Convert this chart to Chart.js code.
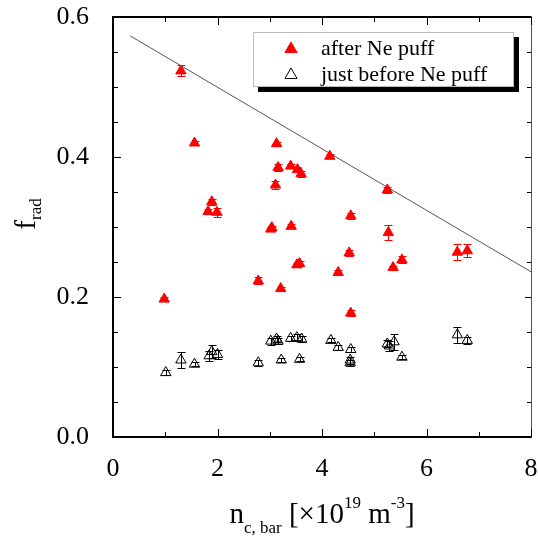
<!DOCTYPE html>
<html><head><meta charset="utf-8">
<script src="https://cdn.jsdelivr.net/npm/chart.js@4/dist/chart.umd.min.js"></script>
<style>html,body{margin:0;padding:0;background:#fff;overflow:hidden;}canvas{display:block;}</style>
</head><body>
<canvas id="c" width="538" height="543"></canvas>
<script>
// ---- data ----
const afterX   = [0.98, 1.30, 1.56, 1.89, 1.82, 1.99, 3.13, 3.16, 3.11, 3.40, 3.53, 3.60, 3.02, 3.04, 3.41, 3.52, 3.57, 2.78, 3.21, 4.15, 5.25, 4.55, 5.27, 4.52, 4.31, 5.36, 5.53, 4.55, 6.59, 6.78];
const afterY   = [0.197, 0.523, 0.420, 0.336, 0.322, 0.321, 0.419, 0.385, 0.360, 0.387, 0.382, 0.376, 0.297, 0.299, 0.301, 0.246, 0.248, 0.223, 0.212, 0.401, 0.353, 0.316, 0.292, 0.263, 0.235, 0.242, 0.253, 0.177, 0.264, 0.266];
const afterErr = [0.003, 0.008, 0.003, 0.004, 0.004, 0.006, 0.003, 0.005, 0.005, 0.003, 0.003, 0.004, 0.003, 0.003, 0.003, 0.003, 0.003, 0.005, 0.003, 0.003, 0.004, 0.004, 0.011, 0.004, 0.003, 0.003, 0.005, 0.004, 0.011, 0.009];
const beforeX   = [1.01, 1.30, 1.56, 1.84, 1.89, 2.00, 2.78, 3.02, 3.13, 3.16, 3.22, 3.40, 3.52, 3.61, 3.57, 4.17, 4.31, 4.55, 4.54, 4.54, 5.25, 5.29, 5.38, 5.53, 6.59, 6.78];
const beforeY   = [0.092, 0.110, 0.104, 0.116, 0.122, 0.118, 0.106, 0.137, 0.140, 0.137, 0.110, 0.141, 0.142, 0.140, 0.111, 0.138, 0.128, 0.125, 0.110, 0.106, 0.133, 0.130, 0.136, 0.114, 0.146, 0.138];
const beforeErr = [0.004, 0.011, 0.003, 0.007, 0.009, 0.007, 0.004, 0.005, 0.005, 0.004, 0.003, 0.004, 0.005, 0.004, 0.003, 0.003, 0.003, 0.004, 0.005, 0.004, 0.005, 0.007, 0.011, 0.003, 0.011, 0.005];
const trendX = [0.33, 8.0];
const trendY = [0.573, 0.236];
const seriesNames = ['after Ne puff', 'just before Ne puff'];
const xTickLabels = ['0', '2', '4', '6', '8'];
const yTickLabels = ['0.0', '0.2', '0.4', '0.6'];

const FONT = "'Liberation Serif', 'Times New Roman', serif";
const pts = (xs, ys) => xs.map((x, i) => ({x: x, y: ys[i]}));

// ---- frame, inward ticks, error bars, legend, axis titles ----
const decor = {
  id: 'decor',
  beforeDatasetsDraw(chart) {
    const ctx = chart.ctx, xs = chart.scales.x, ys = chart.scales.y;
    const sets = [[afterX, afterY, afterErr, '#ff0000'], [beforeX, beforeY, beforeErr, '#000000']];
    ctx.save();
    ctx.lineWidth = 1;
    sets.forEach(([X, Y, E, col]) => {
      ctx.strokeStyle = col;
      X.forEach((x, i) => {
        const px = Math.round(xs.getPixelForValue(x)) + 0.5;
        const y1 = Math.round(ys.getPixelForValue(Y[i] - E[i])) + 0.5;
        const y2 = Math.round(ys.getPixelForValue(Y[i] + E[i])) + 0.5;
        ctx.beginPath();
        ctx.moveTo(px, y1); ctx.lineTo(px, y2);
        ctx.moveTo(px - 4, y1); ctx.lineTo(px + 4, y1);
        ctx.moveTo(px - 4, y2); ctx.lineTo(px + 4, y2);
        ctx.stroke();
      });
    });
    ctx.restore();
  },
  afterDraw(chart) {
    const ctx = chart.ctx, a = chart.chartArea, xs = chart.scales.x, ys = chart.scales.y;
    ctx.save();
    // frame
    ctx.strokeStyle = '#000'; ctx.lineWidth = 2;
    ctx.beginPath();
    ctx.moveTo(a.right, a.top); ctx.lineTo(a.left, a.top); ctx.lineTo(a.left, a.bottom); ctx.lineTo(a.right, a.bottom);
    ctx.stroke();
    ctx.strokeStyle = '#555'; ctx.lineWidth = 1;
    ctx.beginPath(); ctx.moveTo(a.right + 0.5, a.top - 1); ctx.lineTo(a.right + 0.5, a.bottom + 1); ctx.stroke();
    // inward ticks
    ctx.strokeStyle = '#000'; ctx.lineWidth = 1;
    ctx.beginPath();
    ys.ticks.forEach(t => {
      const p = Math.round(ys.getPixelForValue(t.value)) + 0.5;
      const major = Math.round(t.value * 100) % 20 === 0;
      const L = major ? 8 : 5;
      ctx.moveTo(a.left, p); ctx.lineTo(a.left + L, p);
      ctx.moveTo(a.right, p); ctx.lineTo(a.right - (major ? 6 : 4), p);
    });
    xs.ticks.forEach(t => {
      const p = Math.round(xs.getPixelForValue(t.value)) + 0.5;
      const major = Math.round(t.value) % 2 === 0;
      const L = major ? 8 : 5;
      ctx.moveTo(p, a.bottom); ctx.lineTo(p, a.bottom - L);
      ctx.moveTo(p, a.top); ctx.lineTo(p, a.top + L);
    });
    ctx.stroke();

    // legend box with shadow
    const lx = 253, ly = 32, lw = 261, lh = 55;
    ctx.fillStyle = '#000';
    ctx.fillRect(lx + 5, ly + 5, lw, lh);
    ctx.fillStyle = '#fff';
    ctx.fillRect(lx, ly, lw, lh);
    ctx.strokeStyle = '#bbb'; ctx.lineWidth = 1;
    ctx.strokeRect(lx + 0.5, ly + 0.5, lw - 1, lh - 1);
    const styles = [
      {pointStyle: 'triangle', radius: 7, rotation: 0, borderWidth: 1, fill: '#ff0000', stroke: '#ff0000'},
      {pointStyle: 'triangle', radius: 7, rotation: 0, borderWidth: 1, fill: 'rgba(255,255,255,0)', stroke: '#000'}
    ];
    ctx.font = '22px ' + FONT;
    ctx.textBaseline = 'middle'; ctx.textAlign = 'left';
    seriesNames.forEach((name, i) => {
      const yy = 49 + i * 26;
      ctx.fillStyle = styles[i].fill; ctx.strokeStyle = styles[i].stroke; ctx.lineWidth = 1;
      Chart.helpers.drawPoint(ctx, styles[i], 291, yy);
      ctx.fillStyle = '#000';
      ctx.fillText(name, 321, yy);
    });

    // axis titles with sub/superscripts
    const drawRich = (parts, cx, base) => {
      let w = 0;
      parts.forEach(p => { ctx.font = p.s + 'px ' + FONT; p.w = ctx.measureText(p.t).width; w += p.w; });
      let x = cx - w / 2;
      ctx.textAlign = 'left'; ctx.textBaseline = 'alphabetic'; ctx.fillStyle = '#000';
      parts.forEach(p => { ctx.font = p.s + 'px ' + FONT; ctx.fillText(p.t, x, base + (p.dy || 0)); x += p.w; });
    };
    drawRich([
      {t: 'n', s: 29}, {t: 'c, bar', s: 17, dy: 10}, {t: ' [\u00d710', s: 29},
      {t: '19', s: 17, dy: -15}, {t: ' m', s: 29}, {t: '-3', s: 17, dy: -15}, {t: ']', s: 29}
    ], 322, 523);
    ctx.save();
    ctx.translate(35, 214);
    ctx.rotate(-Math.PI / 2);
    drawRich([{t: 'f', s: 29}, {t: 'rad', s: 17, dy: 6}], 0, 0);
    ctx.restore();
    ctx.restore();
  }
};

new Chart(document.getElementById('c'), {
  type: 'scatter',
  data: {
    datasets: [
      {label: seriesNames[0], data: pts(afterX, afterY), pointStyle: 'triangle', pointRadius: 6,
       backgroundColor: '#ff0000', borderColor: '#ff0000', borderWidth: 1, order: 1},
      {label: seriesNames[1], data: pts(beforeX, beforeY), pointStyle: 'triangle', pointRadius: 6,
       backgroundColor: 'rgba(255,255,255,0)', borderColor: '#000', borderWidth: 1, order: 2},
      {type: 'line', label: 'trend', data: pts(trendX, trendY), showLine: true, pointRadius: 0,
       borderColor: '#555', borderWidth: 1, fill: false, order: 3}
    ]
  },
  options: {
    responsive: false, animation: false, devicePixelRatio: 1,
    layout: {padding: {left: 0, top: 17, right: 7, bottom: 0}},
    plugins: {legend: {display: false}, tooltip: {enabled: false}},
    scales: {
      x: {
        type: 'linear', min: 0, max: 8,
        grid: {display: false}, border: {display: false},
        ticks: {stepSize: 1, autoSkip: false, maxRotation: 0, padding: 9, color: '#000',
          font: {family: FONT, size: 26},
          callback: v => { const i = xTickLabels.indexOf(String(v)); return i >= 0 ? xTickLabels[i] : ''; }},
        afterFit: s => { s.height = 106; s.paddingLeft = 0; s.paddingRight = 0; }
      },
      y: {
        type: 'linear', min: 0, max: 0.6,
        grid: {display: false}, border: {display: false},
        ticks: {stepSize: 0.05, autoSkip: false, padding: 16, color: '#000',
          font: {family: FONT, size: 26},
          callback: v => { const r = Math.round(v * 100); return r % 20 === 0 ? yTickLabels[r / 20] : ''; }},
        afterFit: s => { s.width = 113; s.paddingTop = 0; s.paddingBottom = 0; }
      }
    }
  },
  plugins: [decor]
});
</script>
</body></html>
